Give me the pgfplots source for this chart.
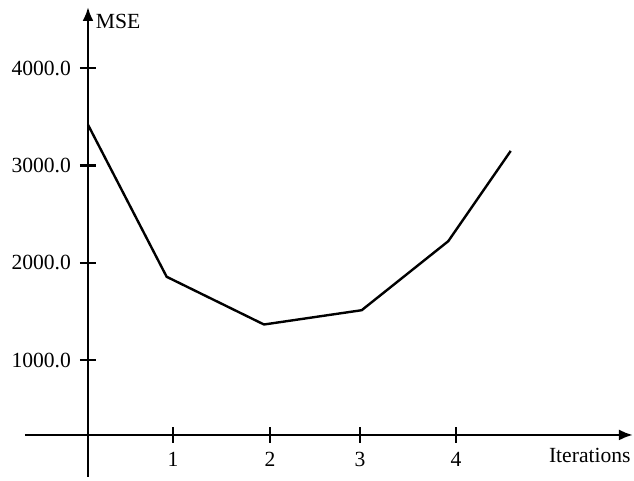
\documentclass[border=0pt]{standalone}
\usepackage{pgfplots}
\pgfplotsset{compat=1.18}
\usetikzlibrary{arrows.meta}
\usepackage{fontspec}
\setmainfont{Liberation Serif}
\begin{document}
\begin{tikzpicture}
\begin{axis}[
  x=46pt, y=0.0486pt,
  xmin=-0.685, xmax=5.924,
  ymin=-203.7, ymax=4631.7,
  axis x line=middle, axis y line=middle,
  axis x line shift=-11.1pt,
  axis line style={line width=1.3pt, -{Latex[length=7pt,width=5.5pt]}},
  xtick={0.924,1.978,2.957,4}, xticklabels={1,2,3,4},
  ytick={1000,2000,3000,4000},
  tick align=center, major tick length=8pt,
  tick style={line width=1.1pt, black},
  /pgf/number format/assume math mode=true,
  yticklabel style={/pgf/number format/fixed, /pgf/number format/fixed zerofill, /pgf/number format/precision=1, /pgf/number format/1000 sep={}, xshift=-1pt},
  ticklabel style={font=\fontsize{10.8}{12}\selectfont},
  xticklabel style={yshift=-1pt},
  xlabel={Iterations}, ylabel={MSE},
  label style={font=\fontsize{10.8}{12}\selectfont},
  xlabel style={at={(axis description cs:0.929,0.0468)}, anchor=center},
  ylabel style={at={(axis description cs:0.105,0.970)}, anchor=west, rotate=0},
  clip=false,
]
\addplot[black, line width=1.2pt] coordinates {
  (0,3420) (0.855,1856) (1.913,1365) (2.975,1512) (3.916,2222) (4.595,3151)
};
\coordinate (BL) at (axis cs:-0.9565,-244.9);
\coordinate (TR) at (axis cs:5.935,4703.7);
\end{axis}
\pgfresetboundingbox
\useasboundingbox (BL) rectangle (TR);
\end{tikzpicture}
\end{document}
